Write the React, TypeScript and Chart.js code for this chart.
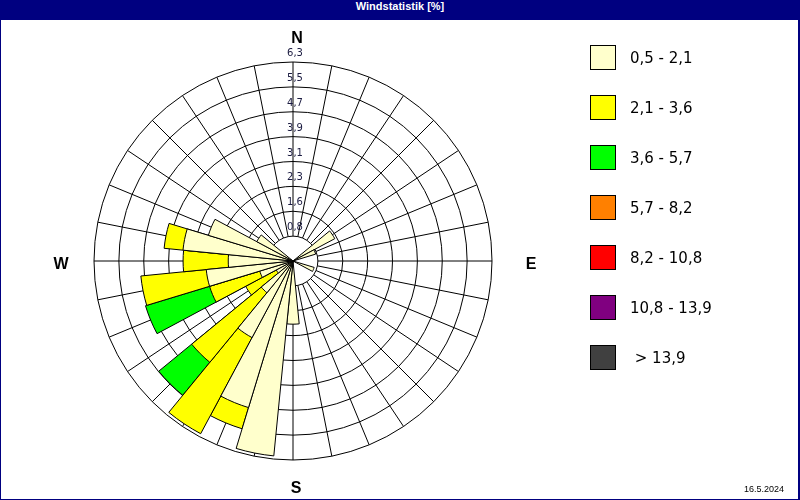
import React, { useEffect, useRef } from 'react';
import { Chart, registerables } from 'chart.js';

Chart.register(...registerables);

// 32 wind directions, clockwise from North
const directions = [
  'N', 'NzO', 'NNO', 'NOzN', 'NO', 'NOzO', 'ONO', 'OzN',
  'O', 'OzS', 'OSO', 'SOzO', 'SO', 'SOzS', 'SSO', 'SzO',
  'S', 'SzW', 'SSW', 'SWzS', 'SW', 'SWzW', 'WSW', 'WzS',
  'W', 'WzN', 'WNW', 'NWzW', 'NW', 'NWzN', 'NNW', 'NzW',
];

// wind speed classes (m/s) and their colours
const speedClasses = ['0,5 - 2,1', '2,1 - 3,6', '3,6 - 5,7', '5,7 - 8,2', '8,2 - 10,8', '10,8 - 13,9', ' > 13,9'];
const classColors = ['#FFFFCC', '#FFFF00', '#00FF00', '#FF8000', '#FF0000', '#800080', '#404040'];

// frequency [%] per direction for each speed class
const freq_0_5_2_1 = [0, 0, 0, 0, 0, 1.5, 0.75, 0, 0, 0, 0.7, 0, 0, 0, 0, 0, 2.0, 6.2, 4.85, 2.75, 1.3, 0.6, 1.1, 2.76, 2.05, 3.5, 2.8, 1.3, 0, 0, 0, 0];
const freq_2_1_3_6 = [0, 0, 0, 0, 0, 0, 0, 0, 0, 0, 0, 0, 0, 0, 0, 0, 0, 0, 0.7, 3.45, 2.85, 1.1, 1.66, 2.08, 1.43, 0.6, 0, 0, 0, 0, 0, 0];
const freq_3_6_5_7 = [0, 0, 0, 0, 0, 0, 0, 0, 0, 0, 0, 0, 0, 0, 0, 0, 0, 0, 0, 0, 1.35, 0, 2.12, 0, 0, 0, 0, 0, 0, 0, 0, 0];
const freq_5_7_8_2 = [0, 0, 0, 0, 0, 0, 0, 0, 0, 0, 0, 0, 0, 0, 0, 0, 0, 0, 0, 0, 0, 0, 0, 0, 0, 0, 0, 0, 0, 0, 0, 0];
const freq_8_2_10_8 = [0, 0, 0, 0, 0, 0, 0, 0, 0, 0, 0, 0, 0, 0, 0, 0, 0, 0, 0, 0, 0, 0, 0, 0, 0, 0, 0, 0, 0, 0, 0, 0];
const freq_10_8_13_9 = [0, 0, 0, 0, 0, 0, 0, 0, 0, 0, 0, 0, 0, 0, 0, 0, 0, 0, 0, 0, 0, 0, 0, 0, 0, 0, 0, 0, 0, 0, 0, 0];
const freq_over_13_9 = [0, 0, 0, 0, 0, 0, 0, 0, 0, 0, 0, 0, 0, 0, 0, 0, 0, 0, 0, 0, 0, 0, 0, 0, 0, 0, 0, 0, 0, 0, 0, 0];

// radial ticks
const ringValues = [0, 0.7875, 1.575, 2.3625, 3.15, 3.9375, 4.725, 5.5125, 6.3];
const ringLabels = ['', '0,8', '1,6', '2,3', '3,1', '3,9', '4,7', '5,5', '6,3'];

const compassLabels = ['N', 'E', 'S', 'W'];

const titleText = 'Windstatistik [%]';
const dateText = '16.5.2024';

const series = [freq_0_5_2_1, freq_2_1_3_6, freq_3_6_5_7, freq_5_7_8_2, freq_8_2_10_8, freq_10_8_13_9, freq_over_13_9];

const roseOverlay = {
  id: 'roseOverlay',
  beforeDatasetsDraw(chart: any) {
    const s = chart.scales.r;
    const ctx = chart.ctx;
    const cx = s.xCenter;
    const cy = s.yCenter;
    const rIn = s.getDistanceFromCenterForValue(ringValues[1]);
    const rOut = s.getDistanceFromCenterForValue(ringValues[ringValues.length - 1]);
    const n = directions.length;
    ctx.save();
    ctx.strokeStyle = '#000';
    ctx.lineWidth = 1;
    ctx.beginPath();
    for (let i = 0; i < n; i++) {
      const a = (i * 2 * Math.PI) / n;
      ctx.moveTo(cx + rIn * Math.sin(a), cy - rIn * Math.cos(a));
      ctx.lineTo(cx + rOut * Math.sin(a), cy - rOut * Math.cos(a));
    }
    ctx.stroke();
    ctx.restore();
  },
  afterDatasetsDraw(chart: any) {
    const s = chart.scales.r;
    const ctx = chart.ctx;
    const cx = s.xCenter;
    const cy = s.yCenter;
    ctx.save();
    ctx.fillStyle = '#1a1a40';
    ctx.font = '10px "DejaVu Sans"';
    ctx.textAlign = 'center';
    ctx.textBaseline = 'alphabetic';
    ringValues.forEach((v, i) => {
      if (!ringLabels[i]) return;
      const r = s.getDistanceFromCenterForValue(v);
      ctx.fillText(ringLabels[i], cx + 2, cy - r - 6);
    });
    const rOut = s.getDistanceFromCenterForValue(ringValues[ringValues.length - 1]);
    ctx.fillStyle = '#000';
    ctx.font = 'bold 16px "Liberation Sans"';
    ctx.textBaseline = 'middle';
    ctx.fillText(compassLabels[0], cx + 4, cy - rOut - 23);
    ctx.fillText(compassLabels[1], cx + rOut + 39, cy + 4);
    ctx.fillText(compassLabels[2], cx + 3, cy + rOut + 29);
    ctx.fillText(compassLabels[3], cx - rOut - 33, cy + 4);
    ctx.restore();
  },
};

function WindRose() {
  const ref = useRef<HTMLCanvasElement | null>(null);
  useEffect(() => {
    if (!ref.current) return;
    const datasets = series.map((vals, c) => ({
      label: speedClasses[c],
      data: vals.map((v, i) => {
        if (!(v > 0)) return 0;
        let sum = 0;
        for (let k = 0; k <= c; k++) sum += series[k][i];
        return sum;
      }),
      backgroundColor: classColors[c],
      borderColor: '#000',
      borderWidth: 1,
    }));
    const chart = new Chart(ref.current, {
      type: 'polarArea',
      data: { labels: directions, datasets },
      options: {
        responsive: false,
        animation: false,
        layout: { padding: { left: 93, right: 306, top: 42, bottom: 39 } },
        plugins: {
          legend: { display: false },
          tooltip: { enabled: false },
          title: { display: false },
        },
        scales: {
          r: {
            min: 0,
            max: 6.3,
            startAngle: -180 / directions.length,
            afterBuildTicks: (scale: any) => {
              scale.ticks = ringValues.map((v) => ({ value: v }));
            },
            ticks: { display: false },
            grid: { display: true, circular: true, color: '#000', lineWidth: 1 },
            angleLines: { display: false },
            pointLabels: { display: false },
          },
        },
      } as any,
      plugins: [roseOverlay],
    });
    return () => chart.destroy();
  }, []);
  return <canvas ref={ref} width={797} height={479} style={{ position: 'absolute', left: 0, top: 0, width: 797, height: 479 }} />;
}

export default function App() {
  return (
    <div style={{ position: 'absolute', left: 0, top: 0, width: 800, height: 500, background: '#000080', overflow: 'hidden' }}>
      <div
        style={{
          position: 'absolute', left: 0, top: 0, width: 800, height: 20, lineHeight: '20px',
          color: '#fff', textAlign: 'center', font: 'bold 11px "Liberation Sans"',
        }}
      >
        {titleText}
      </div>
      <div style={{ position: 'absolute', left: 1, top: 20, width: 797, height: 479, background: '#fff' }}>
        <WindRose />
        {speedClasses.map((lab, i) => (
          <React.Fragment key={i}>
            <div
              style={{
                position: 'absolute', left: 589, top: 25 + i * 50, width: 26, height: 25,
                boxSizing: 'border-box', border: '1px solid #000', background: classColors[i],
              }}
            />
            <div
              style={{
                position: 'absolute', left: 629, top: 29 + i * 50, height: 25, lineHeight: '25px',
                font: '15px "DejaVu Sans"', color: '#000', whiteSpace: 'pre',
              }}
            >
              {lab}
            </div>
          </React.Fragment>
        ))}
        <div
          style={{
            position: 'absolute', left: 743, top: 464, lineHeight: '12px',
            font: '9px "Liberation Sans"', color: '#000', whiteSpace: 'pre',
          }}
        >
          {dateText}
        </div>
      </div>
    </div>
  );
}
